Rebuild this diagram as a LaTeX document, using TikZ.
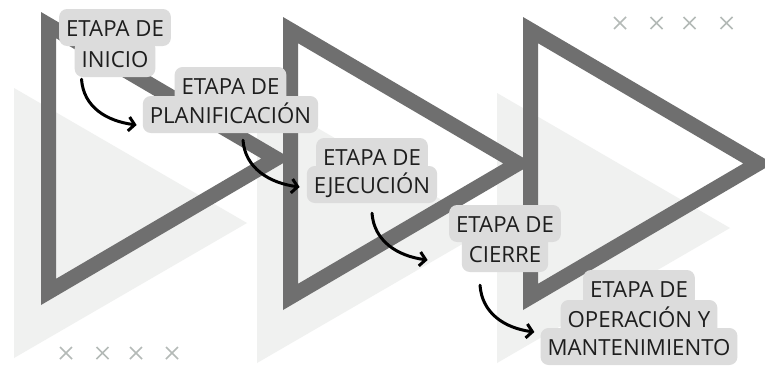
\documentclass[tikz,border=0pt]{standalone}
\usepackage{fontspec}
\setmainfont{Open Sans}
\usetikzlibrary{arrows.meta,calc}
\definecolor{darktri}{HTML}{6F6F6F}
\definecolor{lighttri}{HTML}{F0F1F0}
\definecolor{boxgrey}{HTML}{DCDCDC}
\definecolor{xgrey}{HTML}{B4BAB7}
\definecolor{txt}{HTML}{1E1E1E}
\begin{document}
\begin{tikzpicture}[x=1pt,y=-1pt,
  lbl/.style={fill=boxgrey, rounded corners=8pt, inner xsep=7pt, inner ysep=0pt,
    text height=27pt, text depth=10pt, font=\fontsize{22.2}{26}\selectfont, text=txt, anchor=base},
  arr/.style={line width=3pt, line cap=round,
    -{Straight Barb[length=6pt,width=14pt,line width=3pt]}},
  xm/.style={xgrey, line width=1.6pt}]
\useasboundingbox (0,0) rectangle (765,365);
\clip (0,0) rectangle (765,365);
\fill[white] (0,0) rectangle (765,365);
% light background triangles
\foreach \x/\y in {14/88, 257/93, 497/93}
  \fill[lighttri] (\x,\y) -- ++(0,270) -- ++(233,-135) -- cycle;
% dark outlined triangles
\foreach \x/\y in {41/12, 283/17, 523/17}
  \fill[darktri, even odd rule] (\x,\y) -- ++(0,293) -- ++(250,-146.5) -- cycle
     (\x+15,\y+26.2) -- ++(0,240.6) -- ++(205.3,-120.3) -- cycle;
% labels
\node[lbl] (l1a) at (115,36) {ETAPA DE};
\node[lbl] (l1b) at (115,67) {INICIO};
\node[lbl] (l2a) at (230.5,94) {ETAPA DE};
\node[lbl] (l2b) at (230.5,123) {PLANIFICACIÓN};
\node[lbl] (l3a) at (372,165) {ETAPA DE};
\node[lbl] (l3b) at (372,193) {EJECUCIÓN};
\node[lbl] (l4a) at (505,232) {ETAPA DE};
\node[lbl] (l4b) at (505,262) {CIERRE};
\node[lbl] (l5a) at (639,297) {ETAPA DE};
\node[lbl] (l5b) at (639,327) {OPERACIÓN Y};
\node[lbl] (l5c) at (639,355) {MANTENIMIENTO};
% arrows
\draw[arr] ($(l1b.south west)+(7,2)$) .. controls +(2,28) and +(-30,-4) .. ($(l2b.west)+(-6,10.5)$);
\draw[arr] ($(l2b.south)+(12.5,7)$) .. controls +(2,28) and +(-30,-4) .. ($(l3b.west)+(-7,2.5)$);
\draw[arr] ($(l3b.south)+(0,10)$) .. controls +(2,28) and +(-30,-4) .. ($(l4b.west)+(-34,6.5)$);
\draw[arr] ($(l4b.south)+(-25,13)$) .. controls +(2,28) and +(-30,-4) .. ($(l5c.west)+(-6,-14.5)$);
% x marks
\foreach \x in {620,656.5,689.5,726.5}
  \draw[xm] (\x-6,17) -- (\x+6,29) (\x-6,29) -- (\x+6,17);
\foreach \x in {66,102.5,136,172}
  \draw[xm] (\x-6,347) -- (\x+6,359) (\x-6,359) -- (\x+6,347);
\end{tikzpicture}
\end{document}
